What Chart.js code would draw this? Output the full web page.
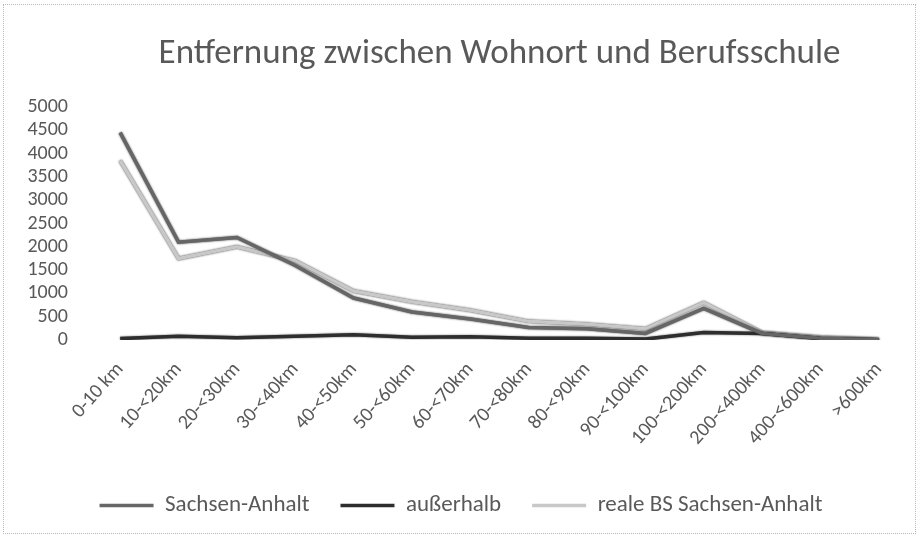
<!DOCTYPE html>
<html lang="de">
<head>
<meta charset="utf-8">
<title>Entfernung zwischen Wohnort und Berufsschule</title>
<script src="https://cdn.jsdelivr.net/npm/chart.js@4/dist/chart.umd.min.js"></script>
<style>
  html, body { margin: 0; padding: 0; background: #fff; }
  #wrap { position: relative; width: 919px; height: 538px; }
  #frame {
    position: absolute; left: 3px; top: 4px; right: 3px; bottom: 4px;
    border: 1px dotted #b8b8b8; pointer-events: none;
  }
</style>
</head>
<body>
<div id="wrap">
  <canvas id="chart-distance" width="919" height="538"></canvas>
  <div id="frame"></div>
</div>
<script>
// Entfernungsklassen (x-Achse)
const categories = [
  "0-10 km", "10-<20km", "20-<30km", "30-<40km", "40-<50km", "50-<60km",
  "60-<70km", "70-<80km", "80-<90km", "90-<100km", "100-<200km",
  "200-<400km", "400-<600km", ">600km",
];

// Anzahl Schüler je Entfernungsklasse
const sachsenAnhalt = [4450, 2100, 2200, 1600, 900, 600, 450, 270, 240, 140, 680, 140, 40, 5];
const ausserhalb = [30, 80, 50, 80, 110, 60, 70, 40, 40, 20, 160, 140, 30, 5];
const realeBS = [3850, 1750, 2000, 1700, 1050, 820, 640, 400, 340, 240, 800, 160, 60, 10];

// y-Achse 0 - 5000 in 500er Schritten
const yMax = 5000;
const yStep = 500;

const fontFamily = "Carlito, Calibri, Lato, sans-serif";
const textColor = "#595959";

// dunkler Rand um die Linien (wie im Ausdruck)
const lineHalo = {
  id: "lineHalo",
  beforeDatasetDraw(chart, args) {
    const ds = chart.data.datasets[args.index];
    const ctx = chart.ctx;
    ctx.save();
    ctx.shadowColor = ds.haloColor || "rgba(0,0,0,0.5)";
    ctx.shadowBlur = 2;
  },
  afterDatasetDraw(chart) {
    chart.ctx.restore();
  },
};

const ctx = document.getElementById("chart-distance").getContext("2d");
new Chart(ctx, {
  type: "line",
  data: {
    labels: categories,
    datasets: [
      {
        label: "Sachsen-Anhalt",
        data: sachsenAnhalt,
        borderColor: "#666666",
        haloColor: "rgba(20,20,20,0.8)",
        borderWidth: 3.5,
        pointRadius: 0,
        tension: 0,
        fill: false,
      },
      {
        label: "außerhalb",
        data: ausserhalb,
        borderColor: "#2e2e2e",
        haloColor: "rgba(0,0,0,0.6)",
        borderWidth: 3.5,
        pointRadius: 0,
        tension: 0,
        fill: false,
      },
      {
        label: "reale BS Sachsen-Anhalt",
        data: realeBS,
        borderColor: "#c8c8c8",
        haloColor: "rgba(40,40,40,0.9)",
        borderWidth: 3.5,
        pointRadius: 0,
        tension: 0,
        fill: false,
      },
    ],
  },
  options: {
    responsive: false,
    animation: false,
    layout: { padding: { left: 14, right: 11, top: 0, bottom: 11 } },
    scales: {
      x: {
        offset: true,
        grid: { display: false, drawTicks: false },
        border: { display: false },
        ticks: {
          autoSkip: false,
          minRotation: 48,
          maxRotation: 48,
          padding: 18,
          color: textColor,
          font: { family: fontFamily, size: 20 },
        },
        afterFit(scale) {
          scale.height = 123;
        },
      },
      y: {
        min: 0,
        max: yMax,
        grid: { display: false, drawTicks: false },
        border: { display: false },
        ticks: {
          stepSize: yStep,
          autoSkip: false,
          padding: 23,
          color: textColor,
          font: { family: fontFamily, size: 20 },
          callback: (value) => String(value),
        },
        afterFit(scale) {
          scale.width = 77;
        },
      },
    },
    plugins: {
      title: {
        display: true,
        fullSize: false,
        text: "Entfernung zwischen Wohnort und Berufsschule",
        color: textColor,
        font: { family: fontFamily, size: 35, weight: "normal" },
        padding: { top: 33, bottom: 32 },
      },
      legend: {
        position: "bottom",
        labels: {
          usePointStyle: true,
          pointStyle: "line",
          pointStyleWidth: 54,
          boxWidth: 54,
          boxHeight: 3,
          padding: 31,
          color: textColor,
          font: { family: fontFamily, size: 23 },
        },
      },
      tooltip: { enabled: false },
    },
  },
  plugins: [lineHalo],
});
</script>
</body>
</html>
